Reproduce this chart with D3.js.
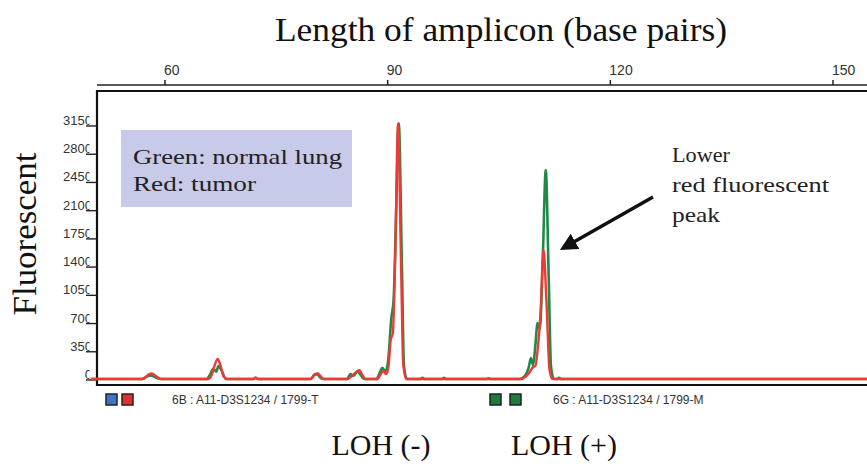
<!DOCTYPE html>
<html>
<head>
<meta charset="utf-8">
<script src="https://cdn.jsdelivr.net/npm/d3@7"></script>
<style>
  body { margin: 0; background: #fff; }
  svg { display: block; }
</style>
</head>
<body>
<svg id="chart"></svg>
<script>
const width = 867;
const height = 468;

// base-pair ticks on the top axis
const bpTicks = [60, 90, 120, 150];
// fluorescence ticks on the left
const fluTicks = [0, 350, 700, 1050, 1400, 1750, 2100, 2450, 2800, 3150];

// traces: [base pairs, fluorescence]
const greenTrace = [
    [50, 0], [56.9, 0], [57.6, 30], [58.1, 45], [58.7, 20], [59.4, 0],
    [65.6, 0], [66.1, 60], [66.5, 125], [66.9, 90], [67.2, 160], [67.6, 110], [68.2, 0],
    [71.9, 0], [72.2, 12], [72.5, 0],
    [79.6, 0], [80.1, 50], [80.5, 60], [80.9, 20], [81.3, 0],
    [84.5, 0], [85.0, 60], [85.4, 40], [85.9, 90], [86.3, 60], [86.8, 0],
    [88.5, 0], [88.9, 70], [89.3, 140], [89.7, 90], [90.1, 260], [90.5, 760], [90.8, 980],
    [91.1, 1900], [91.5, 3170], [91.9, 1500], [92.2, 160], [92.6, 0],
    [94.4, 0], [94.7, 15], [95.0, 0],
    [97.3, 0], [97.6, 15], [97.9, 0],
    [103.3, 0], [103.6, 10], [103.9, 0],
    [107.8, 0], [108.5, 40], [109.0, 140], [109.3, 260], [109.6, 170], [109.9, 420], [110.2, 695],
    [110.5, 620], [110.9, 1500], [111.3, 2590], [111.7, 1250], [112.0, 160], [112.4, 0],
    [112.8, 0], [113.1, 15], [113.4, 0],
    [155, 0]
];

const redTrace = [
    [50, 0], [57.0, 0], [57.7, 50], [58.2, 70], [58.8, 35], [59.5, 0],
    [65.8, 0], [66.3, 50], [66.8, 200], [67.1, 250], [67.5, 160], [67.9, 30], [68.4, 0],
    [71.9, 0], [72.2, 20], [72.5, 0],
    [79.7, 0], [80.2, 60], [80.6, 70], [81.0, 30], [81.4, 0],
    [84.6, 0], [85.2, 40], [85.8, 90], [86.2, 110], [86.6, 50], [87.0, 0],
    [88.6, 0], [89.0, 50], [89.4, 100], [89.8, 60], [90.1, 150], [90.4, 480], [90.7, 570],
    [91.0, 1450], [91.4, 3170], [91.8, 1450], [92.1, 180], [92.5, 0],
    [108.0, 0], [108.6, 30], [109.1, 80], [109.6, 150], [109.9, 160], [110.2, 360],
    [110.6, 820], [111.0, 1600], [111.4, 950], [111.8, 120], [112.2, 0],
    [155, 0]
];

const legendLines = ["Green: normal lung", "Red: tumor"];
const noteLines = ["Lower", "red fluorescent", "peak"];
const lohLabels = ["LOH (-)", "LOH (+)"];
const channelLabels = ["6B : A11-D3S1234 / 1799-T", "6G : A11-D3S1234 / 1799-M"];

const svg = d3.select('#chart')
    .attr('width', width)
    .attr('height', height);

const plot = { left: 97, top: 91, bottom: 385 };

const x = d3.scaleLinear().domain([60, 150]).range([165, 833]);
const y = d3.scaleLinear().domain([0, 3150]).range([379, 125]);

const serif = '"Liberation Serif", "DejaVu Serif", serif';
const sans = '"Liberation Sans", Arial, sans-serif';

// title
svg.append('text')
    .attr('x', 275)
    .attr('y', 41)
    .attr('font-family', serif)
    .attr('font-size', 33)
    .attr('textLength', 452)
    .attr('lengthAdjust', 'spacingAndGlyphs')
    .attr('fill', '#111')
    .text('Length of amplicon (base pairs)');

// top base-pair axis
const topAxis = svg.append('g')
    .attr('transform', `translate(0, 85)`);
topAxis.append('line')
    .attr('x1', plot.left).attr('x2', width)
    .attr('stroke', '#222').attr('stroke-width', 1.5);
const bpTick = topAxis.selectAll('.bptick')
    .data(bpTicks)
    .enter().append('g')
    .attr('class', 'bptick')
    .attr('transform', d => `translate(${x(d)}, 0)`);
bpTick.append('line')
    .attr('y1', 0).attr('y2', -5)
    .attr('stroke', '#222').attr('stroke-width', 1.5);
bpTick.append('text')
    .attr('x', -1)
    .attr('y', -10)
    .attr('font-family', sans)
    .attr('font-size', 14)
    .attr('fill', '#333')
    .text(d => d);

// frame
svg.append('path')
    .attr('d', `M${width + 5},${plot.top} H${plot.left} V${plot.bottom} H${width + 5}`)
    .attr('fill', 'none')
    .attr('stroke', '#111')
    .attr('stroke-width', 2.2);

// left fluorescence ticks (last digit cut by the tick, as on the instrument print)
const clip = svg.append('defs').append('clipPath').attr('id', 'lblclip');
clip.append('rect').attr('x', 0).attr('y', 0).attr('width', 89.5).attr('height', height);

const fluTick = svg.append('g')
    .selectAll('.flutick')
    .data(fluTicks)
    .enter().append('g')
    .attr('class', 'flutick');
fluTick.append('line')
    .attr('x1', 86).attr('x2', plot.left)
    .attr('y1', d => y(d) + 1).attr('y2', d => y(d) + 1)
    .attr('stroke', '#222').attr('stroke-width', 1.4);
fluTick.append('text')
    .attr('x', 92)
    .attr('y', d => y(d))
    .attr('text-anchor', 'end')
    .attr('clip-path', 'url(#lblclip)')
    .attr('font-family', sans)
    .attr('font-size', 13)
    .attr('fill', '#333')
    .text(d => d);

svg.append('text')
    .attr('transform', 'translate(36, 234) rotate(-90)')
    .attr('text-anchor', 'middle')
    .attr('font-family', serif)
    .attr('font-size', 33)
    .attr('textLength', 163)
    .attr('lengthAdjust', 'spacingAndGlyphs')
    .attr('fill', '#111')
    .text('Fluorescent');

// legend box
svg.append('rect')
    .attr('x', 121).attr('y', 130)
    .attr('width', 231).attr('height', 77)
    .attr('fill', '#c7cae8');
const legendWidths = [209, 123];
svg.append('g').selectAll('text')
    .data(legendLines)
    .enter().append('text')
    .attr('x', 133)
    .attr('y', (d, i) => 164 + i * 27)
    .attr('font-family', serif)
    .attr('font-size', 22)
    .attr('textLength', (d, i) => legendWidths[i])
    .attr('lengthAdjust', 'spacingAndGlyphs')
    .attr('fill', '#222')
    .text(d => d);

// traces
const line = d3.line()
    .x(d => x(d[0]))
    .y(d => y(d[1]))
    .curve(d3.curveMonotoneX);

const traces = svg.append('g');
traces.append('path')
    .datum(greenTrace)
    .attr('d', line)
    .attr('fill', 'none')
    .attr('stroke', '#1f8a48')
    .attr('stroke-width', 2.6)
    .attr('stroke-linejoin', 'round');
traces.append('path')
    .datum(redTrace)
    .attr('d', line)
    .attr('fill', 'none')
    .attr('stroke', '#ec3a35')
    .attr('stroke-width', 2.4)
    .attr('stroke-linejoin', 'round');

// annotation
const noteWidths = [58, 157, 48];
svg.append('g').selectAll('text')
    .data(noteLines)
    .enter().append('text')
    .attr('x', 672)
    .attr('y', (d, i) => 162 + i * 30)
    .attr('font-family', serif)
    .attr('font-size', 22)
    .attr('textLength', (d, i) => noteWidths[i])
    .attr('lengthAdjust', 'spacingAndGlyphs')
    .attr('fill', '#222')
    .text(d => d);

svg.append('defs').append('marker')
    .attr('id', 'arrow')
    .attr('viewBox', '0 0 10 10')
    .attr('refX', 2).attr('refY', 5)
    .attr('markerWidth', 5).attr('markerHeight', 5)
    .attr('orient', 'auto')
    .append('path')
    .attr('d', 'M0,0 L10,5 L0,10 Z')
    .attr('fill', '#111');
svg.append('line')
    .attr('x1', 653).attr('y1', 197)
    .attr('x2', 572).attr('y2', 243)
    .attr('stroke', '#111')
    .attr('stroke-width', 3.5)
    .attr('marker-end', 'url(#arrow)');

// channel legend row under the plot
const swatches = [
    { x: 106, color: '#3f73c8' }, { x: 122, color: '#e2302c' },
    { x: 490, color: '#1f7a3e' }, { x: 510, color: '#1f7a3e' }
];
svg.append('g').selectAll('rect')
    .data(swatches)
    .enter().append('rect')
    .attr('x', d => d.x).attr('y', 394)
    .attr('width', 11).attr('height', 11)
    .attr('fill', d => d.color)
    .attr('stroke', '#222').attr('stroke-width', 1.5);
const channelX = [172, 553];
svg.append('g').selectAll('text')
    .data(channelLabels)
    .enter().append('text')
    .attr('x', (d, i) => channelX[i]).attr('y', 404)
    .attr('font-family', sans)
    .attr('font-size', 12)
    .attr('fill', '#333')
    .text(d => d);

// LOH labels
const lohX = [381, 564];
svg.append('g').selectAll('text')
    .data(lohLabels)
    .enter().append('text')
    .attr('x', (d, i) => lohX[i])
    .attr('y', 455)
    .attr('text-anchor', 'middle')
    .attr('font-family', serif)
    .attr('font-size', 30)
    .attr('fill', '#111')
    .text(d => d);
</script>
</body>
</html>
